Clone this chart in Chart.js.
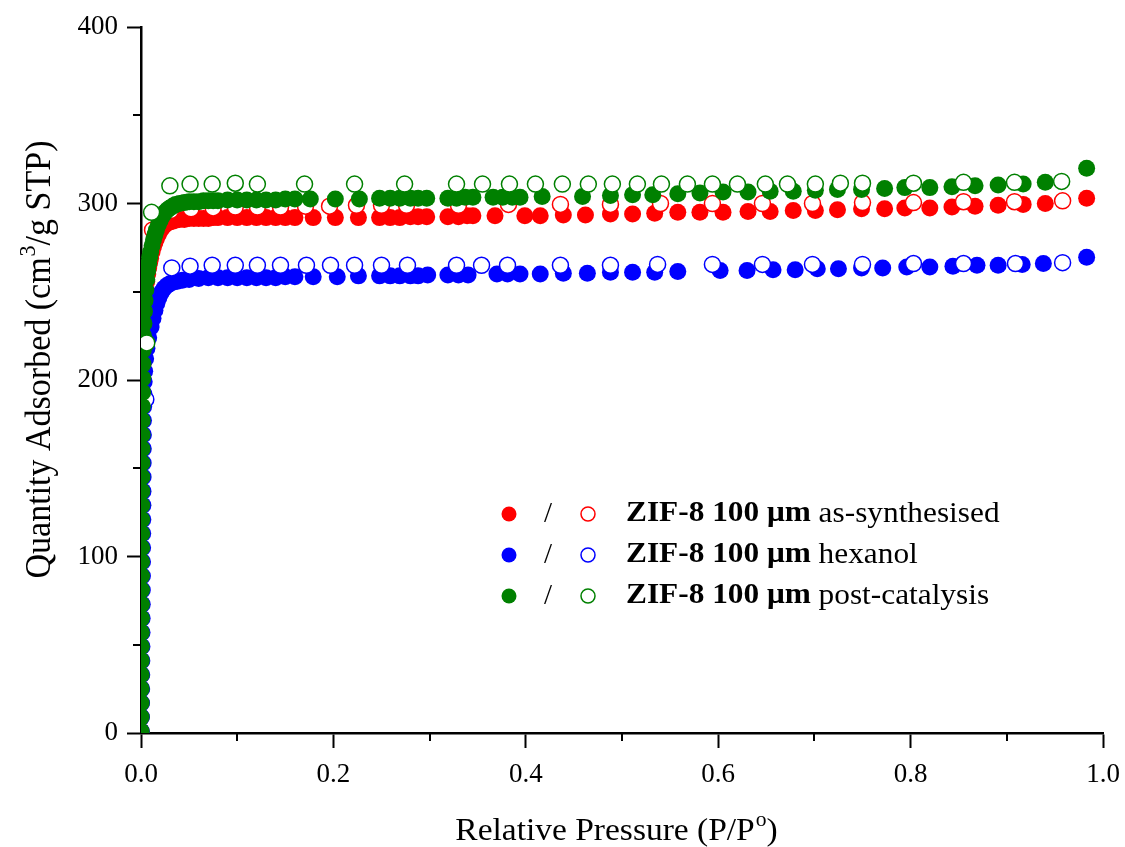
<!DOCTYPE html>
<html lang="en">
<head>
  <meta charset="UTF-8"/>
  <title>ZIF-8 N2 isotherms</title>
  <script src="https://cdn.jsdelivr.net/npm/chart.js"></script>
  <style>
    body {
      margin: 0;
      background: #fff;
    }
    canvas {
      display: block;
    }
  </style>
</head>
<body>

<canvas id="isotherm" width="1125" height="847"></canvas>

<script>
  // adsorption branch (filled markers): relative pressure / quantity adsorbed
  const redAdsP = [0.0001, 0.00015, 0.0002, 0.00025, 0.0003, 0.00035, 0.0004, 0.00045, 0.0005, 0.00055,
    0.0006, 0.00065, 0.0007, 0.00075, 0.0008, 0.00085, 0.0009, 0.00095, 0.0010, 0.0011,
    0.0012, 0.0013, 0.0014, 0.0015, 0.0017, 0.0019, 0.0021, 0.0024, 0.0027, 0.0031,
    0.0036, 0.0042, 0.0050, 0.0060, 0.0070, 0.0080, 0.0090, 0.0100, 0.0115, 0.0130,
    0.0145, 0.0160, 0.0180, 0.0200, 0.0225, 0.0250, 0.0275, 0.0300, 0.0330, 0.0360,
    0.0400, 0.0450, 0.0500, 0.0550, 0.0600, 0.0650, 0.0700, 0.0750, 0.0800, 0.0900,
    0.1000, 0.1100, 0.1200, 0.1300, 0.1400, 0.1500, 0.1600,
    0.179, 0.202, 0.226, 0.248, 0.259, 0.269, 0.280, 0.288, 0.297, 0.319, 0.330, 0.339, 0.345, 0.368, 0.399, 0.415, 0.439, 0.462, 0.488, 0.511, 0.534, 0.558,
    0.581, 0.605, 0.631, 0.654, 0.678, 0.701, 0.724, 0.749, 0.773, 0.794, 0.820, 0.843, 0.867, 0.891, 0.917, 0.940, 0.983];
  const redAdsQ = [1, 9, 17, 25, 33, 41, 49, 57, 65, 73,
    81, 89, 97, 105, 113, 121, 129, 137, 145, 153,
    161, 169, 177, 185, 193, 201, 209, 217, 225, 232,
    239, 245, 251, 256, 260, 263.5, 266.5, 269, 272.5, 275.5,
    278, 280, 282.5, 284.5, 286.5, 288, 289, 289.5, 290, 290.5,
    291, 291, 291.5, 291.5, 291.5, 291.5, 291.5, 292, 292, 292,
    292, 292, 292, 292, 292, 292, 292,
    292, 292, 292, 292, 292, 292, 292.5, 292.5, 292.5, 292.5, 292.5, 293, 293, 293, 293, 293, 293.5, 293.5, 294, 294, 294.5, 295,
    295, 295, 295.5, 295.5, 296, 296, 296.5, 297, 297, 297.5, 297.5, 298, 298.5, 299, 299.5, 300, 303];

  const blueAdsP = [0.0004, 0.0005, 0.0006, 0.0007, 0.0008, 0.0009, 0.0010, 0.0011, 0.0012, 0.0013,
    0.0014, 0.0015, 0.0016, 0.0017, 0.0018, 0.0019, 0.0020, 0.0021, 0.0022, 0.0023,
    0.0024, 0.0025, 0.0026, 0.0028, 0.0030, 0.0033, 0.0038, 0.0048, 0.0062, 0.0080,
    0.0105, 0.0125, 0.0145, 0.0165, 0.0185, 0.0210, 0.0240, 0.0270, 0.0300, 0.0340,
    0.0380, 0.0430, 0.0500, 0.0600, 0.0700, 0.0800, 0.0900, 0.1000, 0.1100, 0.1200,
    0.1300, 0.1400, 0.1500, 0.1600,
    0.179, 0.204, 0.226, 0.248, 0.259, 0.269, 0.280, 0.288, 0.298, 0.319, 0.330, 0.340, 0.370, 0.381, 0.394, 0.415, 0.439, 0.464, 0.488, 0.511, 0.534, 0.558,
    0.602, 0.630, 0.657, 0.680, 0.703, 0.725, 0.749, 0.771, 0.796, 0.820, 0.844, 0.869, 0.891, 0.916, 0.938, 0.983];
  const blueAdsQ = [1, 9, 17, 25, 33, 41, 49, 57, 65, 73,
    81, 89, 97, 105, 113, 121, 129, 137, 145, 153,
    161, 169, 177, 185, 192, 199, 205, 212, 218, 224,
    230, 235, 239.5, 243.5, 246.5, 249.5, 252, 253.5, 254.5, 255.5,
    256, 256.5, 257, 257.5, 258, 258, 258, 258, 258, 258,
    258, 258, 258.5, 258.5,
    258.5, 258.5, 259, 259, 259, 259, 259, 259, 259.5, 259.5, 259.5, 259.5, 260, 260, 260, 260, 260.5, 260.5, 261, 261, 261, 261.5,
    262, 262, 262.5, 262.5, 263, 263, 263.5, 263.5, 264, 264, 264.5, 265, 265, 265.5, 266, 269.5];

  const greenAdsP = [0.0001, 0.00015, 0.0002, 0.00025, 0.0003, 0.00035, 0.0004, 0.00045, 0.0005, 0.00055,
    0.0006, 0.00065, 0.0007, 0.00075, 0.0008, 0.00085, 0.0009, 0.00095, 0.0010, 0.0011,
    0.0012, 0.0013, 0.0014, 0.0015, 0.0017, 0.0019, 0.0021, 0.0024, 0.0027, 0.0031,
    0.0036, 0.0042, 0.0050, 0.0060, 0.0070, 0.0080, 0.0090, 0.0100, 0.0115, 0.0130,
    0.0145, 0.0160, 0.0180, 0.0200, 0.0225, 0.0250, 0.0275, 0.0300, 0.0330, 0.0360,
    0.0400, 0.0450, 0.0500, 0.0550, 0.0600, 0.0650, 0.0700, 0.0750, 0.0800, 0.0900,
    0.1000, 0.1100, 0.1200, 0.1300, 0.1400, 0.1500, 0.1600,
    0.176, 0.202, 0.227, 0.248, 0.259, 0.269, 0.280, 0.288, 0.297, 0.319, 0.328, 0.337, 0.345, 0.366, 0.376, 0.386, 0.394, 0.417, 0.459, 0.488, 0.511, 0.532, 0.558,
    0.581, 0.605, 0.631, 0.654, 0.678, 0.701, 0.724, 0.749, 0.773, 0.794, 0.820, 0.843, 0.867, 0.891, 0.917, 0.940, 0.983];
  const greenAdsQ = [1, 9, 17, 25, 33, 41, 49, 57, 65, 73,
    81, 89, 97, 105, 113, 121, 129, 137, 145, 153,
    161, 169, 177, 185, 193, 201, 209, 217, 225, 232,
    239, 245, 251, 257, 262, 266, 269.5, 272.5, 276, 279.5,
    282.5, 285, 288, 290.5, 293, 295, 296.5, 297.5, 298.5, 299.5,
    300, 300.5, 301, 301, 301, 301.5, 301.5, 301.5, 301.5, 302,
    302, 302, 302, 302, 302, 302.5, 302.5,
    302.5, 302.5, 302.5, 303, 303, 303, 303, 303, 303, 303, 303, 303.5, 303.5, 303.5, 303.5, 303.5, 303.5, 304, 304, 304.5, 305, 305, 305.5,
    306, 306.5, 306.5, 307, 307, 307.5, 308, 308, 308.5, 309, 309, 309.5, 310, 310.5, 311, 312, 320];

  // desorption branch (open markers)
  const redDesP = [0.012, 0.031, 0.052, 0.075, 0.098, 0.121, 0.145, 0.171, 0.196, 0.224, 0.250, 0.276, 0.330, 0.382, 0.436, 0.488, 0.540, 0.594, 0.646, 0.698, 0.750, 0.803, 0.855, 0.908, 0.958];
  const redDesQ = [285, 296, 297, 297.5, 298, 298, 298, 298.5, 298.5, 299, 299, 299, 299, 299.5, 299.5, 299.5, 300, 300, 300, 300, 300.5, 300.5, 301, 301, 301.5];

  const blueDesP = [0.005, 0.032, 0.051, 0.074, 0.098, 0.121, 0.145, 0.172, 0.197, 0.222, 0.250, 0.277, 0.328, 0.354, 0.381, 0.436, 0.488, 0.537, 0.594, 0.646, 0.698, 0.750, 0.803, 0.855, 0.909, 0.958];
  const blueDesQ = [189, 263.5, 264.5, 265, 265, 265, 265, 265, 265, 265, 265, 265, 265, 265, 265, 265, 265, 265.5, 265.5, 265.5, 265.5, 265.5, 266, 266, 266, 266.5];

  const greenDesP = [0.006, 0.011, 0.030, 0.051, 0.074, 0.098, 0.121, 0.170, 0.222, 0.274, 0.328, 0.355, 0.383, 0.410, 0.438, 0.465, 0.490, 0.516, 0.541, 0.568, 0.594, 0.620, 0.649, 0.672, 0.701, 0.727, 0.750, 0.803, 0.855, 0.908, 0.957];
  const greenDesQ = [221, 295, 310, 311, 311, 311.5, 311, 311, 311, 311, 311, 311, 311, 311, 311, 311, 311, 311, 311, 311, 311, 311, 311, 311, 311, 311.5, 311.5, 311.5, 312, 312, 312.5];

  const sampleNames = ["as-synthesised", "hexanol", "post-catalysis"];
  const sampleColors = ["#ff0000", "#0000ff", "#008000"];

  const xMinorTicks = [0.1, 0.3, 0.5, 0.7, 0.9];
  const yMinorTicks = [50, 150, 250, 350];

  const SERIF = "'Liberation Serif', 'Times New Roman', serif";
  const WIDEN = 1.08; // the serif text is set slightly wide

  function pts(px, qy) {
    return px.map((p, i) => ({ x: p, y: qy[i] }));
  }

  // order: lower number is painted on top
  function filled(px, qy, color, order) {
    return {
      data: pts(px, qy),
      order: order,
      showLine: false,
      clip: 0,
      pointRadius: 8.5,
      pointHoverRadius: 8.5,
      pointBackgroundColor: color,
      pointBorderColor: color,
      pointBorderWidth: 0
    };
  }

  function hollow(px, qy, color, order) {
    return {
      data: pts(px, qy),
      order: order,
      showLine: false,
      clip: 0,
      pointRadius: 8,
      pointHoverRadius: 8,
      pointBackgroundColor: "#fff",
      pointBorderColor: color,
      pointBorderWidth: 1.5
    };
  }

  // writes text widened horizontally, starting at (x, y)
  function wideText(ctx, text, x, y) {
    ctx.save();
    ctx.translate(x, y);
    ctx.scale(WIDEN, 1);
    ctx.fillText(text, 0, 0);
    ctx.restore();
    return ctx.measureText(text).width * WIDEN;
  }

  // minor ticks, axis titles with superscripts, and the two-marker legend
  const decorations = {
    id: "decorations",
    afterDraw(chart) {
      const ctx = chart.ctx;
      const xs = chart.scales.x;
      const ys = chart.scales.y;
      const area = chart.chartArea;

      ctx.save();
      ctx.strokeStyle = "#000";
      ctx.lineWidth = 2;
      xMinorTicks.forEach(v => {
        const px = Math.round(xs.getPixelForValue(v));
        ctx.beginPath();
        ctx.moveTo(px, area.bottom);
        ctx.lineTo(px, area.bottom + 8);
        ctx.stroke();
      });
      yMinorTicks.forEach(v => {
        const py = Math.round(ys.getPixelForValue(v));
        ctx.beginPath();
        ctx.moveTo(area.left, py);
        ctx.lineTo(area.left - 8, py);
        ctx.stroke();
      });

      ctx.fillStyle = "#000";
      ctx.textAlign = "left";
      ctx.textBaseline = "alphabetic";

      // x title
      const xBig = "31px " + SERIF;
      const xSmall = "20px " + SERIF;
      ctx.font = xBig;
      const xa = "Relative Pressure (P/P";
      const wXa = ctx.measureText(xa).width * WIDEN;
      const wXb = ctx.measureText(")").width * WIDEN;
      ctx.font = xSmall;
      const wSupX = ctx.measureText("o").width * WIDEN;
      const sx = 616 - (wXa + wSupX + wXb) / 2;
      const by = 840;
      ctx.font = xBig;
      wideText(ctx, xa, sx, by);
      ctx.font = xSmall;
      wideText(ctx, "o", sx + wXa + 1, by - 14);
      ctx.font = xBig;
      wideText(ctx, ")", sx + wXa + wSupX + 1, by);

      // y title, rotated
      ctx.save();
      ctx.translate(50, 360);
      ctx.rotate(-Math.PI / 2);
      ctx.scale(1, WIDEN);
      const yBig = "34px " + SERIF;
      const ySmall = "22px " + SERIF;
      const ya = "Quantity Adsorbed (cm";
      const yb = "/g STP)";
      ctx.font = yBig;
      const wYa = ctx.measureText(ya).width;
      const wYb = ctx.measureText(yb).width;
      ctx.font = ySmall;
      const wSupY = ctx.measureText("3").width;
      const tx = -(wYa + wSupY + wYb) / 2;
      ctx.font = yBig;
      ctx.fillText(ya, tx, 0);
      ctx.font = ySmall;
      ctx.fillText("3", tx + wYa + 1, -14);
      ctx.font = yBig;
      ctx.fillText(yb, tx + wYa + wSupY + 1, 0);
      ctx.restore();

      // legend
      const rowY = [514, 555, 596];
      sampleNames.forEach((name, i) => {
        const cy = rowY[i];
        const col = sampleColors[i];
        ctx.beginPath();
        ctx.arc(509, cy, 7.5, 0, Math.PI * 2);
        ctx.fillStyle = col;
        ctx.fill();

        ctx.beginPath();
        ctx.arc(588, cy, 7, 0, Math.PI * 2);
        ctx.fillStyle = "#fff";
        ctx.fill();
        ctx.lineWidth = 1.5;
        ctx.strokeStyle = col;
        ctx.stroke();

        ctx.fillStyle = "#000";
        ctx.textBaseline = "middle";
        ctx.font = "29px " + SERIF;
        ctx.textAlign = "center";
        ctx.fillText("/", 548, cy);
        ctx.textAlign = "left";
        ctx.font = "bold 29px " + SERIF;
        const wb = wideText(ctx, "ZIF-8 100 \u03bcm", 626, cy);
        ctx.font = "29px " + SERIF;
        wideText(ctx, " " + name, 626 + wb, cy);
      });
      ctx.restore();
    }
  };

  const tickFont = { family: SERIF, size: 27 };

  new Chart(document.getElementById("isotherm"), {
    type: "scatter",
    data: {
      datasets: [
        hollow(greenDesP, greenDesQ, sampleColors[2], 0),
        filled(greenAdsP, greenAdsQ, sampleColors[2], 1),
        hollow(blueDesP, blueDesQ, sampleColors[1], 2),
        filled(blueAdsP, blueAdsQ, sampleColors[1], 3),
        hollow(redDesP, redDesQ, sampleColors[0], 4),
        filled(redAdsP, redAdsQ, sampleColors[0], 5)
      ]
    },
    options: {
      responsive: false,
      devicePixelRatio: 1,
      animation: false,
      layout: { padding: { top: 27, right: 22, left: 0, bottom: 0 } },
      plugins: {
        legend: { display: false },
        tooltip: { enabled: false }
      },
      scales: {
        x: {
          type: "linear",
          min: 0,
          max: 1,
          z: 1,
          ticks: {
            stepSize: 0.2,
            callback: v => v.toFixed(1),
            font: tickFont,
            color: "#000",
            padding: 11,
            maxRotation: 0
          },
          grid: {
            drawOnChartArea: false,
            tickLength: 15,
            tickWidth: 2,
            tickColor: "#000"
          },
          border: { display: true, color: "#000", width: 2.5 },
          afterFit: s => {
            s.height = 114;
            s.paddingLeft = 0;
            s.paddingRight = 0;
          }
        },
        y: {
          min: 0,
          max: 400,
          z: 1,
          ticks: {
            stepSize: 100,
            font: tickFont,
            color: "#000",
            padding: 9
          },
          grid: {
            drawOnChartArea: false,
            tickLength: 14,
            tickWidth: 2,
            tickColor: "#000"
          },
          border: { display: true, color: "#000", width: 2.5 },
          afterFit: s => {
            s.width = 141;
            s.paddingTop = 0;
            s.paddingBottom = 0;
          }
        }
      }
    },
    plugins: [decorations]
  });
</script>

</body>
</html>
